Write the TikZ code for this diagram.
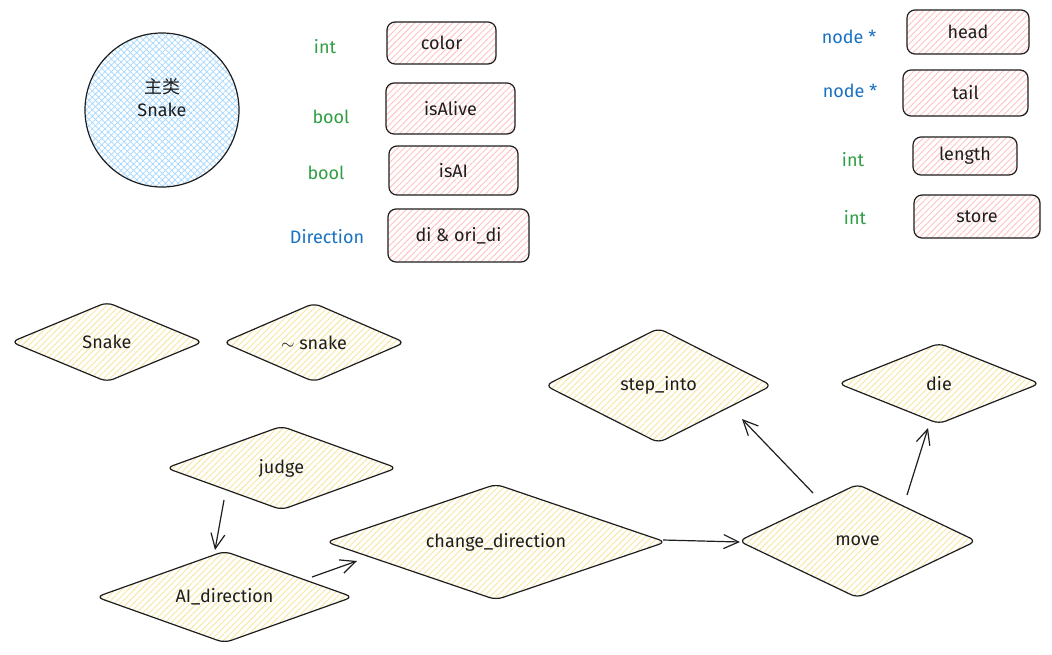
\documentclass[tikz,border=0pt]{standalone}
\usepackage{fontspec}
\setmainfont{Fira Sans}
\newfontfamily\cjk{Noto Sans CJK SC}
\usetikzlibrary{shapes.geometric,patterns.meta,arrows.meta,calc}
\definecolor{ink}{HTML}{1E1E1E}
\definecolor{tgreen}{HTML}{2F9E44}
\definecolor{tblue}{HTML}{1971C2}
\definecolor{hyellow}{HTML}{F9E6A0}
\definecolor{hpink}{HTML}{FFC4C4}
\definecolor{hblue}{HTML}{A5D8FF}
\tikzset{
  txt/.style={font=\fontsize{18}{21}\selectfont, text=ink},
  field/.style={txt, draw=ink, line width=1.2pt, rounded corners=8pt, inner sep=0pt,
    pattern={Lines[angle=45,distance=4.5pt,line width=0.9pt]}, pattern color=hpink},
  dia/.style n args={3}{txt, shape=diamond, draw=ink, line width=1.2pt, rounded corners=7pt, inner sep=0pt,
    minimum width=#1, minimum height=#2, aspect=#3,
    pattern={Lines[angle=45,distance=4.5pt,line width=0.9pt]}, pattern color=hyellow},
  circ/.style={shape=circle, draw=ink, line width=1.2pt, inner sep=0pt,
    pattern={Hatch[angle=45,distance=4.5pt,line width=0.7pt]}, pattern color=hblue},
  gtype/.style={txt, text=tgreen},
  btype/.style={txt, text=tblue},
  arr/.style={draw=ink, line width=1.2pt, -{Straight Barb[length=15pt,width=14pt,line width=1.2pt]}}
}
\begin{document}
\begin{tikzpicture}[x=1pt,y=-1pt]
\useasboundingbox[fill=white] (0,0) rectangle (1052,654);

% class circle
\node[circ, minimum size=154pt] (cls) at (162,110) {};
\node[txt, align=center, inner sep=0pt] (clsname) at (162,98) {{\cjk 主类}\\[2pt]Snake};

% left fields
\node[gtype] (t1) at (325,47) {int};
\node[gtype] (t2) at (331,117) {bool};
\node[gtype] (t3) at (326,173) {bool};
\node[btype] (t4) at (327,237) {Direction};
\node[field, minimum width=109pt, minimum height=42pt] (color) at (441.5,43) {color};
\node[field, minimum width=129pt, minimum height=51pt] (alive) at (450.5,108.5) {isAlive};
\node[field, minimum width=129pt, minimum height=49pt] (isai) at (453.5,170.5) {isAI};
\node[field, minimum width=141pt, minimum height=53pt] (dir) at (458.5,235.5) {di \& ori\_di};

% right fields
\node[btype] (t5) at (849,37) {node *};
\node[btype] (t6) at (850,91) {node *};
\node[gtype] (t7) at (853,160) {int};
\node[gtype] (t8) at (855,218) {int};
\node[field, minimum width=122pt, minimum height=44pt] (head) at (968,32) {head};
\node[field, minimum width=125pt, minimum height=46pt] (tail) at (965.5,93) {tail};
\node[field, minimum width=104pt, minimum height=38pt] (length) at (965,156) {length};
\node[field, minimum width=126pt, minimum height=43pt] (store) at (977,216.5) {store};

% methods
\node[dia={192pt}{80pt}{2.4}] (snake) at (107,342) {Snake};
\node[dia={182pt}{79pt}{2.304}] (dtor) at (314,342.5) {$\sim$ snake};
\node[dia={227pt}{115pt}{1.974}] (step) at (658.5,385.5) {step\_into};
\node[dia={202pt}{81pt}{2.494}] (die) at (939,383.5) {die};
\node[dia={231pt}{84pt}{2.75}] (judge) at (281.5,468) {judge};
\node[dia={257pt}{92pt}{2.793}] (ai) at (224.5,597) {AI\_direction};
\node[dia={340pt}{116pt}{2.931}] (cd) at (496,542) {change\_direction};
\node[dia={238pt}{114pt}{2.088}] (move) at (857.5,541) {move};

% connectors
\draw[arr] ($(judge)+(-57.5,32)$) -- ($(ai)+(-9.5,-47)$);
\draw[arr] ($(ai)+(87.5,-20)$) -- ($(cd)+(-139,19)$);
\draw[arr] ($(cd)+(167,-2)$) -- ($(move)+(-117.5,1)$);
\draw[arr] ($(move)+(-44.5,-48)$) -- ($(step)+(83.5,33.5)$);
\draw[arr] ($(move)+(49.5,-46)$) -- ($(die)+(-11,44.5)$);
\end{tikzpicture}
\end{document}
